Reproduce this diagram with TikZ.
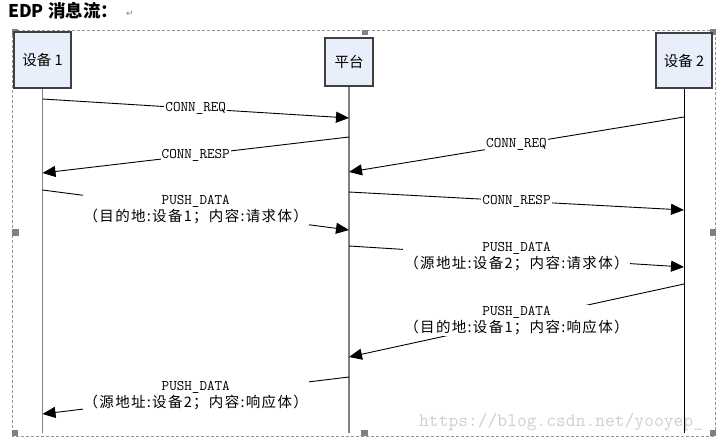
\documentclass[tikz,border=0pt]{standalone}
\usepackage{fontspec}
\newfontfamily\cjk{Noto Sans CJK SC}
\newfontfamily\cjksp{Noto Sans CJK SC}[LetterSpace=9]
\newfontfamily\djv{DejaVu Sans}
\usetikzlibrary{arrows.meta}
\definecolor{boxfill}{RGB}{232,238,250}
\definecolor{hgray}{RGB}{128,128,128}
\definecolor{fgray}{RGB}{150,150,150}
\definecolor{wmgray}{RGB}{208,208,208}
\tikzset{
  actor/.style={draw=black!75, line width=1.1pt, fill=boxfill, inner sep=0pt,
    font=\cjk\fontsize{14.5}{14.5}\selectfont},
  lifegray/.style={draw=hgray, line width=1.8pt},
  lifeblack/.style={draw=black, line width=1pt},
  msg/.style={draw=black, line width=0.9pt, -{Triangle[length=13pt,width=11pt]}},
  lbl/.style={fill=white, inner xsep=1pt, inner ysep=1pt,
    font=\ttfamily\fontsize{14.7}{17}\selectfont, align=center},
  handle/.style={fill=hgray},
}
\newcommand{\cjkline}[1]{{\cjksp\fontsize{14.5}{17}\selectfont #1}}
\begin{document}
\begin{tikzpicture}[x=1pt,y=-1pt]
\useasboundingbox (0,0) rectangle (720,442);
\fill[white] (0,0) rectangle (720,442);

% title
\node[anchor=base west, inner sep=0pt, font=\cjk\bfseries\fontsize{17.5}{17.5}\selectfont] (title) at (8,17) {EDP 消息流：};
\node[anchor=base west, inner sep=0pt, text=hgray, font=\djv\fontsize{9}{9}\selectfont] (ret) at (126,16) {↵};

% watermark
\node[anchor=base west, inner sep=0pt, text=wmgray, font=\ttfamily\fontsize{19}{19}\selectfont] (wm) at (419,426) {https://blog.csdn.net/yooyep\_};

% frame
\draw[fgray, dash pattern=on 3pt off 2pt, line width=0.8pt] (12,30) rectangle (715,436);
\fill[handle] (12,29) rectangle (18,35);
\fill[handle] (362,30) rectangle (368,35);
\fill[handle] (710,29) rectangle (716,35);
\fill[handle] (12,229) rectangle (19,236);
\fill[handle] (710,229) rectangle (716,236);
\fill[handle] (12,430) rectangle (18,436);
\fill[handle] (361,430) rectangle (368,436);
\fill[handle] (710,430) rectangle (716,436);

% actors
\node[actor, minimum width=57pt, minimum height=56pt] (d1) at (42.5,60) {设备 1};
\node[actor, minimum width=48pt, minimum height=48pt] (pf) at (349,62) {平台};
\node[actor, minimum width=56pt, minimum height=55pt] (d2) at (684,60.5) {设备 2};

% lifelines
\coordinate (d1b) at (42.5,433);
\coordinate (pfb) at (349,433);
\coordinate (d2b) at (684,433);
\draw[lifegray] (d1) -- (d1b);
\draw[lifegray] (pf) -- (pfb);
\draw[lifeblack] (d2) -- (d2b);

% message end points
\coordinate (m1a) at (42.5,99);  \coordinate (m1b) at (349,118);
\coordinate (m2a) at (349,137);  \coordinate (m2b) at (42.5,173);
\coordinate (m3a) at (684,117);  \coordinate (m3b) at (349,172);
\coordinate (m4a) at (349,192);  \coordinate (m4b) at (684,210);
\coordinate (m5a) at (42.5,190); \coordinate (m5b) at (349,230);
\coordinate (m6a) at (349,246);  \coordinate (m6b) at (684,267);
\coordinate (m7a) at (684,284);  \coordinate (m7b) at (349,357);
\coordinate (m8a) at (349,377);  \coordinate (m8b) at (42.5,414);

% messages
\draw[msg] (m1a) -- node[lbl] (l1) {CONN\_REQ} (m1b);
\draw[msg] (m2a) -- node[lbl] (l2) {CONN\_RESP} (m2b);
\draw[msg] (m3a) -- node[lbl] (l3) {CONN\_REQ} (m3b);
\draw[msg] (m4a) -- node[lbl] (l4) {CONN\_RESP} (m4b);
\draw[msg] (m5a) -- node[lbl] (l5) {PUSH\_DATA\\\cjkline{（目的地:设备1；内容:请求体）}} (m5b);
\draw[msg] (m6a) -- node[lbl] (l6) {PUSH\_DATA\\\cjkline{（源地址:设备2；内容:请求体）}} (m6b);
\draw[msg] (m7a) -- node[lbl] (l7) {PUSH\_DATA\\\cjkline{（目的地:设备1；内容:响应体）}} (m7b);
\draw[msg] (m8a) -- node[lbl] (l8) {PUSH\_DATA\\\cjkline{（源地址:设备2；内容:响应体）}} (m8b);
\end{tikzpicture}
\end{document}
